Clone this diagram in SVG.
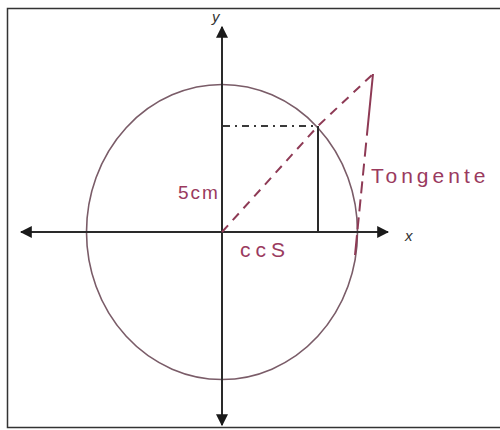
<svg xmlns="http://www.w3.org/2000/svg" width="500" height="430" viewBox="0 0 500 430">
  <style>
    .axis { stroke: #2a2a2a; stroke-width: 2; fill: none; }
    .circ { stroke: #7a5c68; stroke-width: 1.6; fill: none; }
    .red { stroke: #8e3a55; stroke-width: 2; fill: none; }
    .lbl { font-family: "Liberation Sans", "DejaVu Sans", sans-serif; fill: #9a3a5e; }
    .ax { font-family: "Liberation Sans", "DejaVu Sans", sans-serif; font-style: italic; fill: #333; font-size: 15px; }
  </style>
  <defs>
    <marker id="arr" viewBox="0 0 10 10" refX="9" refY="5" markerWidth="6" markerHeight="6" orient="auto" markerUnits="strokeWidth">
      <path d="M0,0 L10,5 L0,10 z" fill="#1a1a1a"/>
    </marker>
  </defs>
  <rect x="7.5" y="8.5" width="500" height="419" fill="#fff" stroke="#333" stroke-width="1.5"/>

  <g id="circle">
    <ellipse class="circ" cx="222" cy="232" rx="135.5" ry="147.5"/>
  </g>

  <g id="axes">
    <line class="axis" x1="222" y1="232" x2="222" y2="27" marker-end="url(#arr)"/>
    <line class="axis" x1="222" y1="232" x2="222" y2="425" marker-end="url(#arr)"/>
    <line class="axis" x1="222" y1="232" x2="388" y2="232" marker-end="url(#arr)"/>
    <line class="axis" x1="222" y1="232" x2="21" y2="232" marker-end="url(#arr)"/>
    <text class="ax" x="212" y="22">y</text>
    <text class="ax" x="405" y="241">x</text>
  </g>

  <g id="connectors">
    <line x1="223" y1="126" x2="318" y2="126" stroke="#3a3a3a" stroke-width="2" stroke-dasharray="7,5,2,5"/>
    <line x1="318" y1="126" x2="318" y2="231" stroke="#2a2a2a" stroke-width="2"/>
    <polyline class="red" points="222,232 318,126 373,74" stroke-dasharray="9,7"/>
    <line class="red" x1="373" y1="74" x2="355" y2="255" stroke-dasharray="62,7,14,7,12,6,12,6,12,6,12,6,40"/>
  </g>

  <g id="labels">
    <text class="lbl" x="178" y="199" font-size="19" letter-spacing="2">5cm</text>
    <text class="lbl" x="240" y="257" font-size="21" letter-spacing="5">ccS</text>
    <text class="lbl" x="371" y="183" font-size="21" letter-spacing="4">Tongente</text>
  </g>
</svg>
